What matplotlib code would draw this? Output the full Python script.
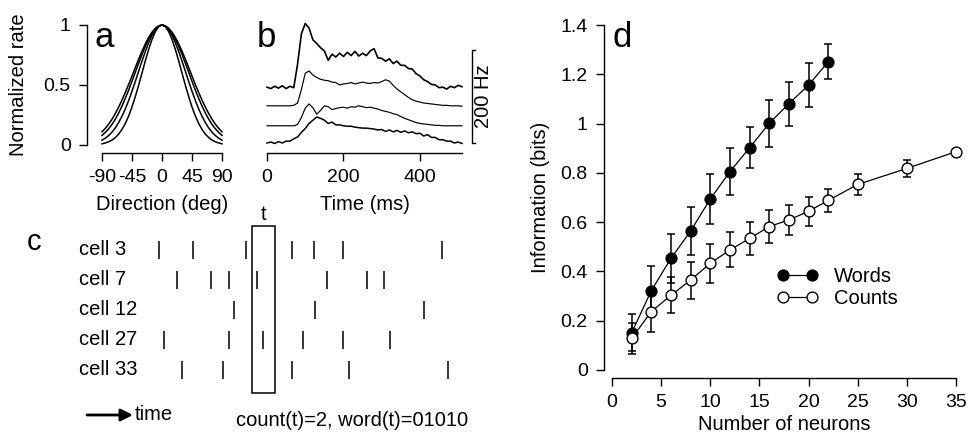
import matplotlib
matplotlib.use('Agg')
import matplotlib.pyplot as plt
from matplotlib.patches import Rectangle

plt.rcParams['font.family'] = ['Liberation Sans', 'DejaVu Sans']
plt.rcParams['axes.unicode_minus'] = False

# ---------------- data ----------------
# panel a: tuning curves, values at 0,5,...,90 deg (symmetric about 0)
dir_half = [0, 5, 10, 15, 20, 25, 30, 35, 40, 45, 50, 55, 60, 65, 70, 75, 80, 85, 90]
tuning_half_1 = [1.0, .993, .973, .940, .897, .843, .782, .716, .646, .575, .505, .438, .374, .316, .263, .215, .174, .139, .110]
tuning_half_2 = [1.0, .992, .969, .932, .882, .823, .755, .682, .607, .531, .458, .389, .325, .267, .216, .172, .135, .105, .080]
tuning_half_3 = [1.0, .990, .961, .915, .853, .780, .700, .615, .530, .448, .371, .301, .240, .187, .143, .107, .079, .057, .040]
tuning_half_4 = [1.0, .986, .945, .880, .797, .702, .600, .499, .404, .317, .242, .180, .130, .091, .062, .041, .027, .017, .010]
dir_ticks = [-90, -45, 0, 45, 90]

# panel b: PSTH traces (Hz, stacked), sampled every 10 ms
time_ms = list(range(0, 520, 10))
psth_1 = [120, 117, 122, 118, 123, 117, 122, 119, 170, 235, 257, 247, 222, 214, 205, 198, 178, 191, 185, 193,
          186, 195, 188, 197, 187, 193, 188, 198, 203, 183, 182, 176, 181, 171, 176, 167, 167, 160, 159, 149,
          144, 136, 132, 126, 125, 119, 120, 116, 122, 119, 124, 121]
psth_2 = [80, 80, 80, 80, 80, 80, 80, 81, 86, 115, 150, 155, 146, 141, 137, 135, 134, 131, 130, 125,
          127, 128, 130, 127, 129, 131, 129, 128, 130, 129, 132, 136, 133, 124, 116, 110, 104, 98, 93, 90,
          88, 86, 85, 84, 83, 82, 81, 81, 80, 80, 80, 79]
psth_3 = [37, 37, 37, 37, 37, 37, 37, 37, 40, 55, 75, 84, 76, 62, 70, 80, 78, 72, 74, 76,
          77, 75, 78, 77, 80, 78, 76, 77, 75, 73, 70, 68, 66, 63, 61, 57, 53, 50, 47, 44,
          42, 41, 40, 39, 38, 38, 37, 37, 37, 37, 37, 37]
psth_4 = [0, 2, -1, 3, 0, 4, 4, 9, 13, 23, 31, 42, 49, 56, 53, 49, 42, 45, 39, 39,
          37, 36, 36, 34, 33, 32, 32, 31, 30, 28, 29, 25, 28, 24, 27, 23, 26, 22, 24, 20,
          21, 15, 18, 12, 12, 7, 7, 4, 4, 0, 2, -1]
time_ticks = [0, 200, 400]
scale_bar_hz = 200

# panel c: raster (arbitrary time units)
cell_names = ['cell 3', 'cell 7', 'cell 12', 'cell 27', 'cell 33']
spike_times = [
    [19, 53, 106, 152, 174, 203, 302],
    [37, 71, 89, 117, 187, 227, 244],
    [94, 175, 284],
    [24, 89, 123, 163, 203, 250],
    [42, 83, 152, 209, 308],
]
window_t = (112, 135)

# panel d: information vs number of neurons
n_words = [2, 4, 6, 8, 10, 12, 14, 16, 18, 20, 22]
info_words = [0.151, 0.322, 0.453, 0.564, 0.694, 0.805, 0.902, 1.001, 1.081, 1.156, 1.251]
err_words = [0.075, 0.100, 0.100, 0.098, 0.102, 0.094, 0.084, 0.095, 0.089, 0.089, 0.071]
n_counts = [2, 4, 6, 8, 10, 12, 14, 16, 18, 20, 22, 25, 30, 35]
info_counts = [0.128, 0.237, 0.303, 0.365, 0.433, 0.487, 0.534, 0.582, 0.609, 0.644, 0.688, 0.753, 0.818, 0.886]
err_counts = [0.064, 0.084, 0.073, 0.075, 0.078, 0.071, 0.067, 0.068, 0.060, 0.060, 0.046, 0.043, 0.034, 0.0]
d_xticks = [0, 5, 10, 15, 20, 25, 30, 35]
d_yticks = [0, 0.2, 0.4, 0.6, 0.8, 1.0, 1.2, 1.4]
d_yticklabels = ['0', '0.2', '0.4', '0.6', '0.8', '1', '1.2', '1.4']

# ---------------- figure ----------------
W, H = 968, 437
fig = plt.figure(figsize=(W / 100, H / 100), dpi=100)
PX = 0.72  # points per pixel
FS = 14.5
TFS = 14


def box(l, t, r, b):
    return [l / W, 1 - b / H, (r - l) / W, (b - t) / H]


def fp(x, y):
    return (x / W, 1 - y / H)


def style_ticks(ax):
    ax.tick_params(direction='out', length=8 * PX, width=1.0, labelsize=TFS, color='k')
    ax.tick_params(axis='x', pad=5.5)
    ax.tick_params(axis='y', pad=6)
    for s in ax.spines.values():
        s.set_linewidth(1.0)


# ----- panel a -----
axa = fig.add_axes(box(102, 25, 222, 145))
directions = [-d for d in dir_half[::-1]] + dir_half[1:]
for half in (tuning_half_1, tuning_half_2, tuning_half_3, tuning_half_4):
    vals = half[::-1] + half[1:]
    axa.plot(directions, vals, color='k', lw=1.1, clip_on=False)
axa.set_xlim(-90, 90)
axa.set_ylim(0, 1)
axa.spines[['top', 'right']].set_visible(False)
axa.spines['left'].set_position(('outward', 15 * PX))
axa.spines['bottom'].set_position(('outward', 8 * PX))
axa.set_xticks(dir_ticks)
axa.set_xticklabels([str(v) for v in dir_ticks])
axa.set_yticks([0, 0.5, 1])
axa.set_yticklabels(['0', '0.5', '1'])
style_ticks(axa)
axa.set_xlabel('Direction (deg)', fontsize=FS)
axa.xaxis.label.set(va='center', ha='center')
axa.xaxis.set_label_coords(*fp(162, 204), transform=fig.transFigure)
axa.set_ylabel('Normalized rate', fontsize=FS)
axa.yaxis.label.set(va='center', ha='center')
axa.yaxis.set_label_coords(*fp(19, 85), transform=fig.transFigure)

# ----- panel b -----
px_per_hz = 0.465
axb = fig.add_axes(box(267, 18, 462, 145))
axb.plot(time_ms, psth_1, color='k', lw=1.2, clip_on=False)
axb.plot(time_ms, psth_2, color='k', lw=0.85, clip_on=False)
axb.plot(time_ms, psth_3, color='k', lw=0.85, clip_on=False)
axb.plot(time_ms, psth_4, color='k', lw=1.1, clip_on=False)
axb.set_xlim(0, 510)
axb.set_ylim(-2 / px_per_hz, 125 / px_per_hz)
for s in ('top', 'right', 'left'):
    axb.spines[s].set_visible(False)
axb.spines['bottom'].set_position(('outward', 8 * PX))
axb.set_yticks([])
axb.set_xticks(time_ticks)
style_ticks(axb)
axb.set_xlabel('Time (ms)', fontsize=FS)
axb.xaxis.label.set(va='center', ha='center')
axb.xaxis.set_label_coords(*fp(365, 204), transform=fig.transFigure)
# scale bar
xb = 536
axb.plot([xb + 8, xb, xb, xb + 8], [scale_bar_hz, scale_bar_hz, 0, 0], color='k', lw=1.0,
         clip_on=False, solid_joinstyle='miter')
axb.text(xb + 29, scale_bar_hz / 2, f'{scale_bar_hz} Hz', rotation=90, ha='center', va='center',
         fontsize=FS, clip_on=False)

# ----- panel c -----
axc = fig.add_axes(box(140, 226, 470, 393))
axc.set_xlim(0, 330)
axc.set_ylim(4.767, -0.8)
axc.axis('off')
axc.eventplot(spike_times, lineoffsets=list(range(len(cell_names))), linelengths=0.57,
              colors='k', linewidths=1.1)
for i, name in enumerate(cell_names):
    axc.text(-61, i, name, ha='left', va='center', fontsize=FS, clip_on=False)
axc.add_patch(Rectangle((window_t[0], -0.8), window_t[1] - window_t[0], 5.567,
                        fill=False, edgecolor='k', lw=1.1, clip_on=False))
axc.text((window_t[0] + window_t[1]) / 2, -1.17, 't', ha='center', va='center', fontsize=FS)
fig.text(*fp(236, 420), 'count(t)=2, word(t)=01010', ha='left', va='center', fontsize=FS)
fig.text(*fp(135, 414), 'time', ha='left', va='center', fontsize=FS)
axc.annotate('', xy=fp(133, 415), xycoords='figure fraction', xytext=fp(87, 415),
             textcoords='figure fraction',
             arrowprops=dict(arrowstyle='-|>', lw=2.0, color='k', mutation_scale=18,
                             shrinkA=0, shrinkB=0))

# ----- panel d -----
axd = fig.add_axes(box(612, 25, 956, 370))
axd.errorbar(n_words, info_words, yerr=err_words, fmt='none', ecolor='k', elinewidth=1.1,
             capsize=3, capthick=1.1, clip_on=False)
axd.errorbar(n_counts, info_counts, yerr=err_counts, fmt='none', ecolor='k', elinewidth=1.1,
             capsize=3, capthick=1.1, clip_on=False)
lw_, = axd.plot(n_words, info_words, '-o', color='k', lw=0.9, markersize=7.8,
                markerfacecolor='k', markeredgecolor='k', clip_on=False, zorder=3, label='Words')
lc_, = axd.plot(n_counts, info_counts, '-o', color='k', lw=0.9, markersize=7.8,
                markerfacecolor='white', markeredgecolor='k', markeredgewidth=1.0,
                clip_on=False, zorder=4, label='Counts')
axd.set_xlim(0, 35)
axd.set_ylim(0, 1.4)
axd.spines[['top', 'right']].set_visible(False)
axd.spines['left'].set_position(('outward', 8 * PX))
axd.spines['bottom'].set_position(('outward', 8 * PX))
axd.set_xticks(d_xticks)
axd.set_yticks(d_yticks)
axd.set_yticklabels(d_yticklabels)
style_ticks(axd)
axd.set_xlabel('Number of neurons', fontsize=FS)
axd.xaxis.label.set(va='center', ha='center')
axd.xaxis.set_label_coords(*fp(784, 425), transform=fig.transFigure)
axd.set_ylabel('Information (bits)', fontsize=FS)
axd.yaxis.label.set(va='center', ha='center')
axd.yaxis.set_label_coords(*fp(540, 197), transform=fig.transFigure)
axd.legend(handles=[lw_, lc_], loc='upper left', bbox_to_anchor=fp(777, 267),
           bbox_transform=fig.transFigure, frameon=False, handlelength=2.05,
           handletextpad=0.8, labelspacing=0.15, borderpad=0, borderaxespad=0,
           numpoints=2, fontsize=FS)

# ----- panel letters -----
fig.text(*fp(95, 47), 'a', fontsize=25, ha='left', va='baseline')
fig.text(*fp(257, 47), 'b', fontsize=25, ha='left', va='baseline')
fig.text(*fp(612, 47), 'd', fontsize=25, ha='left', va='baseline')
fig.text(*fp(27, 250), 'c', fontsize=21, ha='left', va='baseline')

fig.savefig('out.png', dpi=100)
